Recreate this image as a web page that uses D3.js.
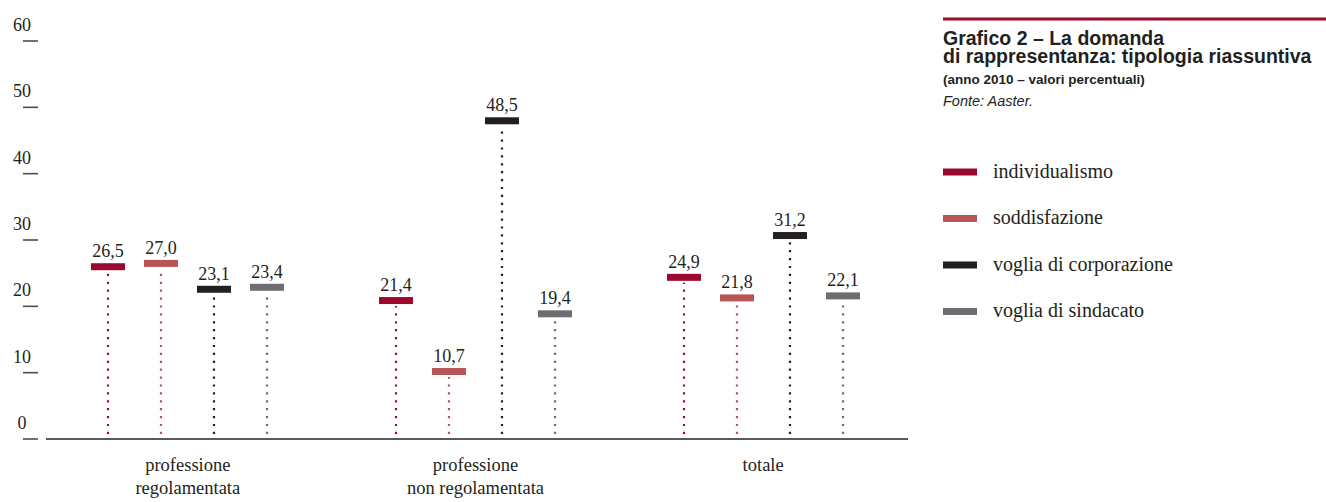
<!DOCTYPE html>
<html>
<head>
<meta charset="utf-8">
<script src="https://cdn.jsdelivr.net/npm/d3@7"></script>
<style>
  html, body { margin: 0; padding: 0; background: #fff; }
  svg { display: block; }
  .serif { font-family: "Liberation Serif", "DejaVu Serif", serif; fill: #231f20; }
  .sans { font-family: "Liberation Sans", Arial, sans-serif; fill: #231f20; }
</style>
</head>
<body>
<svg id="chart" width="1326" height="502"></svg>
<script>
// Categories (two-line labels split on "\n")
const categories = ["professione\nregolamentata", "professione\nnon regolamentata", "totale"];
const seriesNames = ["individualismo", "soddisfazione", "voglia di corporazione", "voglia di sindacato"];
const seriesColors = ["#9b0a2e", "#b85556", "#231f20", "#6d6e71"];

// Values (percent), one array per series, in category order
const individualismo = [26.5, 21.4, 24.9];
const soddisfazione = [27.0, 10.7, 21.8];
const corporazione = [23.1, 48.5, 31.2];
const sindacato = [23.4, 19.4, 22.1];
const seriesValues = [individualismo, soddisfazione, corporazione, sindacato];

const yTicks = [0, 10, 20, 30, 40, 50, 60];

const svg = d3.select("#chart");
const fmt = v => d3.format(".1f")(v).replace(".", ",");

const y = d3.scaleLinear().domain([0, 60]).range([439, 41]);
const x0 = d3.scaleBand().domain(categories).range([44, 907]);
const x1 = d3.scaleBand().domain(seriesNames)
  .range([(x0.bandwidth() - 212) / 2, (x0.bandwidth() + 212) / 2]);

// y axis: short tick marks with labels sitting above them
const yAxis = svg.append("g");
yAxis.selectAll("line").data(yTicks).join("line")
  .attr("x1", 23).attr("x2", 38)
  .attr("y1", d => y(d)).attr("y2", d => y(d))
  .attr("stroke", "#4d4d4f").attr("stroke-width", 1.6);
yAxis.selectAll("text").data(yTicks).join("text")
  .attr("class", "serif")
  .attr("x", 22).attr("y", d => y(d) - 10)
  .attr("text-anchor", "middle")
  .attr("font-size", 18)
  .text(d => d);

// baseline
svg.append("line")
  .attr("x1", 46).attr("x2", 908)
  .attr("y1", y(0)).attr("y2", y(0))
  .attr("stroke", "#5a5a5c").attr("stroke-width", 2);

// category labels
categories.forEach(c => {
  const t = svg.append("text").attr("class", "serif")
    .attr("text-anchor", "middle").attr("font-size", 18.5)
    .attr("x", x0(c) + x0.bandwidth() / 2).attr("y", 471);
  c.split("\n").forEach((line, i) => {
    t.append("tspan").attr("x", x0(c) + x0.bandwidth() / 2)
      .attr("dy", i === 0 ? 0 : 22.5).text(line);
  });
});

// marks: a short thick bar at the value, a dotted stem down to the baseline
const flat = [];
categories.forEach((c, ci) => {
  seriesNames.forEach((s, si) => {
    flat.push({ cat: c, series: s, color: seriesColors[si], value: seriesValues[si][ci] });
  });
});
const cx = d => Math.round(x0(d.cat) + x1(d.series) + x1.bandwidth() / 2);
const marks = svg.append("g").selectAll("g").data(flat).join("g");
marks.append("line")
  .attr("x1", cx).attr("x2", cx)
  .attr("y1", Math.round(y(0)) - 5).attr("y2", d => y(d.value) + 9)
  .attr("stroke", d => d.color).attr("stroke-width", 2.2)
  .attr("stroke-dasharray", "2.2,5.7");
marks.append("rect")
  .attr("x", d => cx(d) - 17).attr("width", 34)
  .attr("y", d => y(d.value)).attr("height", 7)
  .attr("fill", d => d.color);
marks.append("text")
  .attr("class", "serif").attr("text-anchor", "middle").attr("font-size", 18)
  .attr("x", cx).attr("y", d => y(d.value) - 6)
  .text(d => fmt(d.value));

// title block
svg.append("line").attr("x1", 943).attr("x2", 1326).attr("y1", 19).attr("y2", 19)
  .attr("stroke", "#9b0a2e").attr("stroke-width", 3.2);
const title = svg.append("text").attr("class", "sans").attr("font-weight", "bold").attr("font-size", 19.5)
  .attr("x", 943).attr("y", 45);
title.append("tspan").attr("x", 943).attr("dy", 0).text("Grafico 2 – La domanda");
title.append("tspan").attr("x", 943).attr("dy", 17.5).text("di rappresentanza: tipologia riassuntiva");
svg.append("text").attr("class", "sans").attr("font-weight", "bold").attr("font-size", 13.5)
  .attr("x", 943).attr("y", 84).text("(anno 2010 – valori percentuali)");
svg.append("text").attr("class", "sans").attr("font-style", "italic").attr("font-size", 14.5)
  .attr("x", 943).attr("y", 106).text("Fonte: Aaster.");

// legend
const legend = svg.append("g").selectAll("g").data(seriesNames).join("g")
  .attr("transform", (d, i) => `translate(943, ${172 + i * 46.5})`);
legend.append("rect").attr("x", 0).attr("y", -3.5).attr("width", 34).attr("height", 7)
  .attr("fill", (d, i) => seriesColors[i]);
legend.append("text").attr("class", "serif").attr("font-size", 20)
  .attr("x", 50).attr("y", 5.5).text(d => d);
</script>
</body>
</html>
